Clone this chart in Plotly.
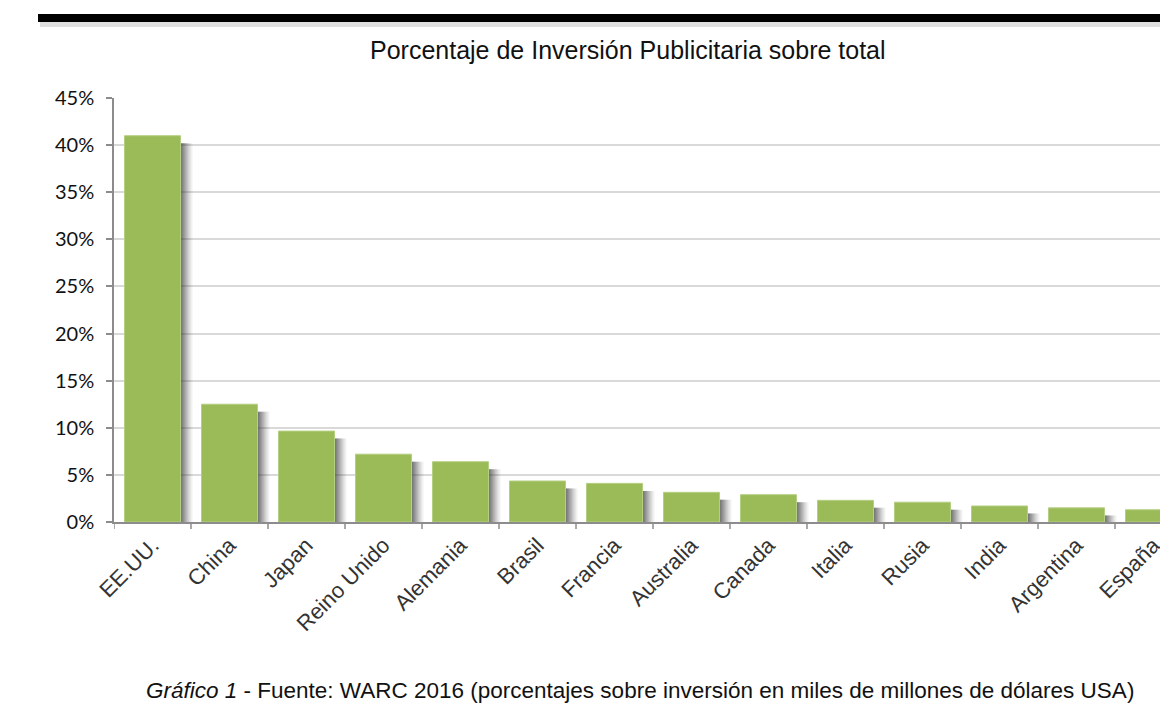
import plotly.graph_objects as go

paises = ["EE.UU.", "China", "Japan", "Reino Unido", "Alemania", "Brasil", "Francia",
          "Australia", "Canada", "Italia", "Rusia", "India", "Argentina", "España"]
porcentajes = [41.0, 12.5, 9.65, 7.2, 6.4, 4.35, 4.1, 3.15, 2.9, 2.3, 2.1, 1.7, 1.5, 1.3]
ticks_y = [0, 5, 10, 15, 20, 25, 30, 35, 40, 45]
ticks_y_txt = [f"{v}%" for v in ticks_y]

# page body has an 8px margin: work in reference pixel coordinates and shift
OFF = 8
W, H = 1168 - OFF, 715 - OFF
L, T = 114 - OFF, 98 - OFF
B = H - (522 - OFF)
R = 0
plot_w = W - L - R
ph = H - T - B
cat_px = 77.0
x_max = -0.5 + plot_w / cat_px
bar_w = 56 / cat_px


def py(ypx):  # reference y pixel -> paper fraction
    return (H - B - (ypx - OFF)) / ph


def px(xpx):  # reference x pixel -> paper fraction
    return (xpx - OFF - L) / plot_w


fig = go.Figure()
idx = list(range(len(paises)))
# soft shadow layers
for dx, op in [(12, 0.07), (10, 0.11), (8, 0.15), (6, 0.19), (4, 0.23), (2, 0.25)]:
    fig.add_trace(go.Bar(
        x=idx, y=[v - 0.8 for v in porcentajes], width=bar_w,
        offset=-bar_w / 2 + dx / cat_px,
        marker=dict(color=f"rgba(60,60,60,{op})", line=dict(width=0)),
        hoverinfo="skip", showlegend=False))
fig.add_trace(go.Bar(
    x=idx, y=porcentajes, width=bar_w, offset=-bar_w / 2,
    marker=dict(color="#9bbb59", line=dict(color="#b5cf82", width=1)),
    showlegend=False, name="%"))

fig.update_layout(
    width=W, height=H, barmode="overlay",
    margin=dict(l=L, r=R, t=T, b=B),
    paper_bgcolor="white", plot_bgcolor="white",
    xaxis=dict(
        range=[-0.5, x_max], tickmode="array", tickvals=idx, ticktext=paises,
        tickangle=-45, tickfont=dict(family="Liberation Sans", size=22, color="#333"),
        showgrid=False, showline=True, linecolor="#8c8c8c", linewidth=1.5,
        ticks="", zeroline=False),
    yaxis=dict(
        range=[0, 45], tickmode="array", tickvals=ticks_y, ticktext=ticks_y_txt,
        tickfont=dict(family="Lato", size=20, color="#111"),
        ticklabelstandoff=8,
        showgrid=True, gridcolor="#d9d9d9", gridwidth=1.5,
        showline=True, linecolor="#8c8c8c", linewidth=1.5,
        ticks="outside", ticklen=6, tickcolor="#8c8c8c", tickwidth=1.5,
        zeroline=False),
)

shapes = []
for i in range(len(paises) + 1):
    xb = i - 0.5
    if xb > x_max:
        break
    shapes.append(dict(type="line", xref="x", yref="paper", x0=xb, x1=xb,
                       y0=0, y1=-7 / ph, line=dict(color="#8c8c8c", width=1.5)))

# top black band with shadow
shapes.append(dict(type="rect", xref="paper", yref="paper", x0=px(40), x1=px(1175),
                   y0=py(27), y1=py(21), fillcolor="rgba(0,0,0,0.12)", line=dict(width=0), layer="below"))
shapes.append(dict(type="rect", xref="paper", yref="paper", x0=px(38), x1=px(1175),
                   y0=py(22), y1=py(14), fillcolor="black", line=dict(width=0)))
fig.update_layout(shapes=shapes)

fig.add_annotation(text="Porcentaje de Inversión Publicitaria sobre total",
                   xref="paper", yref="paper", x=px(628), y=py(50), showarrow=False,
                   font=dict(family="Liberation Sans", size=25, color="#111"),
                   xanchor="center", yanchor="middle")
fig.add_annotation(text="<i>Gráfico 1</i> - Fuente: WARC 2016 (porcentajes sobre inversión en miles de millones de dólares USA)",
                   xref="paper", yref="paper", x=px(640), y=py(690), showarrow=False,
                   font=dict(family="Liberation Sans", size=22.5, color="#111"),
                   xanchor="center", yanchor="middle")

fig.write_html("out.html")
